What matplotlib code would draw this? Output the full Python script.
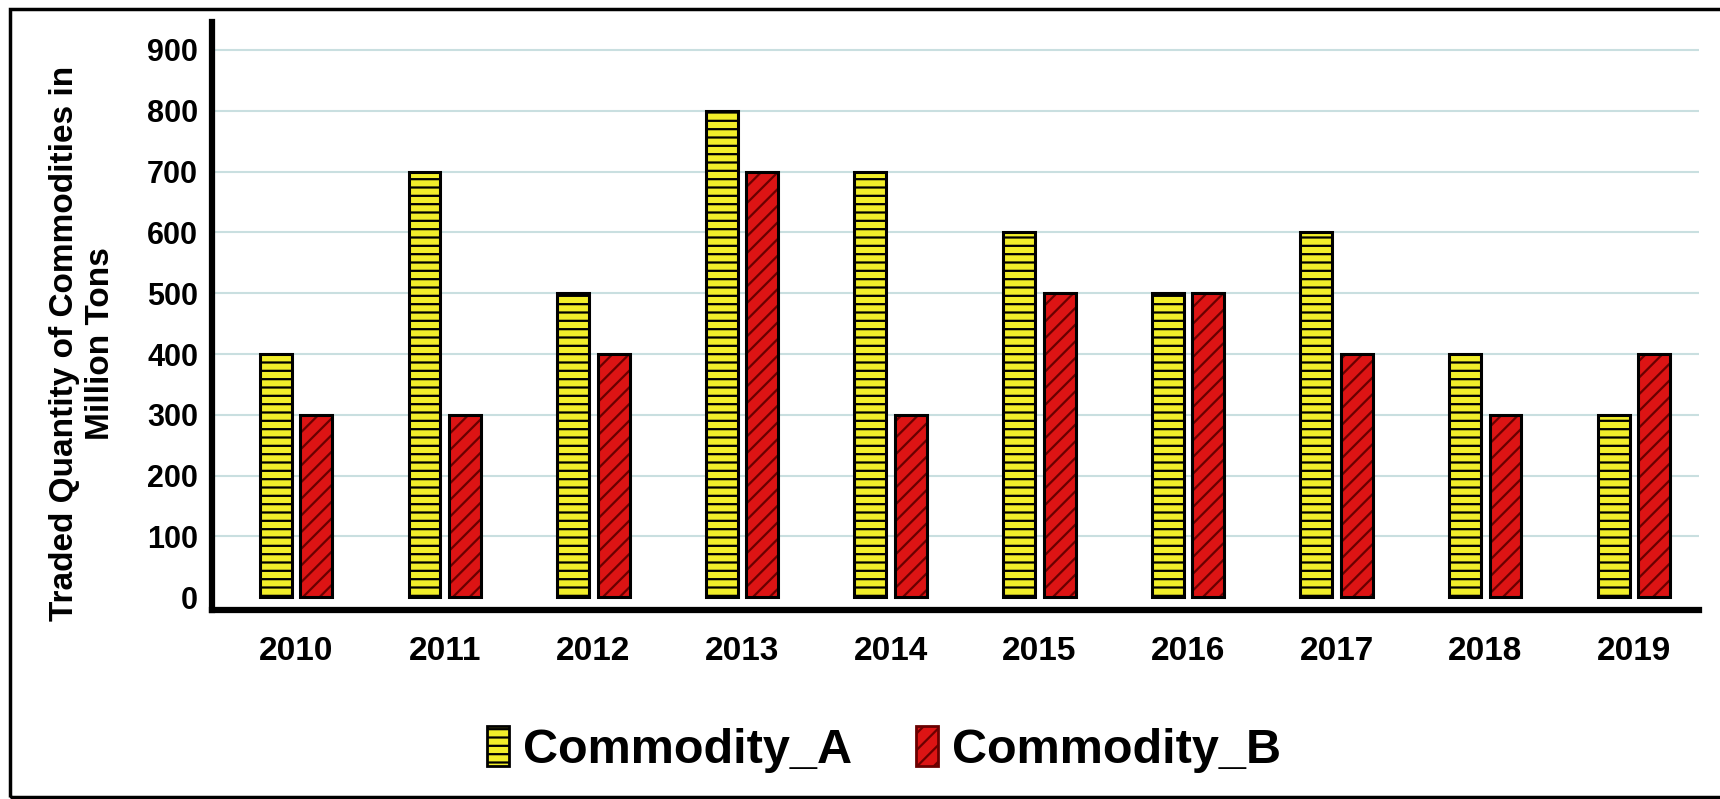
import numpy as np
import matplotlib
matplotlib.use("Agg")
import matplotlib.pyplot as plt
from matplotlib.patches import Rectangle, Patch

plt.rcParams['font.family'] = ['Liberation Sans', 'DejaVu Sans']
plt.rcParams['hatch.linewidth'] = 1.6

years = ['2010', '2011', '2012', '2013', '2014', '2015', '2016', '2017', '2018', '2019']
commodity_a = [400, 700, 500, 800, 700, 600, 500, 600, 400, 300]
commodity_b = [300, 300, 400, 700, 300, 500, 500, 400, 300, 400]
y_ticks = [0, 100, 200, 300, 400, 500, 600, 700, 800, 900]

color_a = '#f2ee2a'
color_b = '#dc1414'

fig = plt.figure(figsize=(17.2, 7.99), dpi=100)
ax = fig.add_axes([0.1233, 0.2365, 0.988 - 0.1233, 0.9725 - 0.2365])

x = np.arange(len(years))
width = 0.215
off = 0.136

# gridlines (skip zero)
for t in y_ticks[1:]:
    ax.axhline(t, color='#c9dfe0', linewidth=1.5, zorder=0)

ax.bar(x - off, commodity_a, width, color=color_a, edgecolor='black',
       hatch='--', linewidth=2.2, zorder=2)
ax.bar(x + off, commodity_b, width, color=color_b, edgecolor='#6a0000',
       hatch='//', linewidth=0, zorder=2)
ax.bar(x + off, commodity_b, width, color='none', edgecolor='black',
       linewidth=2.2, zorder=3)

ax.set_xlim(-0.565, 9.44)
ax.set_ylim(-21, 946)
ax.set_yticks(y_ticks)
ax.set_xticks(x)
ax.set_xticklabels(years)
ax.tick_params(axis='both', length=0)
ax.tick_params(axis='y', pad=10, labelsize=22)
ax.tick_params(axis='x', pad=19, labelsize=24)
for lbl in ax.get_xticklabels() + ax.get_yticklabels():
    lbl.set_fontweight('bold')

for s in ['top', 'right']:
    ax.spines[s].set_visible(False)
for s in ['left', 'bottom']:
    ax.spines[s].set_linewidth(4.5)
    ax.spines[s].set_capstyle('projecting')

fig.text(0.048, 0.57, 'Traded Quantity of Commodities in\nMillion Tons',
         rotation=90, ha='center', va='center', fontsize=24,
         fontweight='bold', linespacing=1.2)

handles = [Patch(facecolor=color_a, edgecolor='black', hatch='--', linewidth=2),
           Patch(facecolor=color_b, edgecolor='#6a0000', hatch='//', linewidth=2)]
fig.legend(handles, ['Commodity_A', 'Commodity_B'], loc='center',
           bbox_to_anchor=(0.514, 0.062), ncol=2, frameon=False,
           prop={'size': 35, 'weight': 'bold'}, handlelength=0.45,
           handleheight=0.9, handletextpad=0.3, columnspacing=1.3)

frame = Rectangle((10 / 1720, 2 / 799), 1.1, 788 / 799, transform=fig.transFigure,
                  fill=False, edgecolor='black', linewidth=2.5, clip_on=False)
fig.patches.append(frame)

fig.savefig('out.png', dpi=100)
